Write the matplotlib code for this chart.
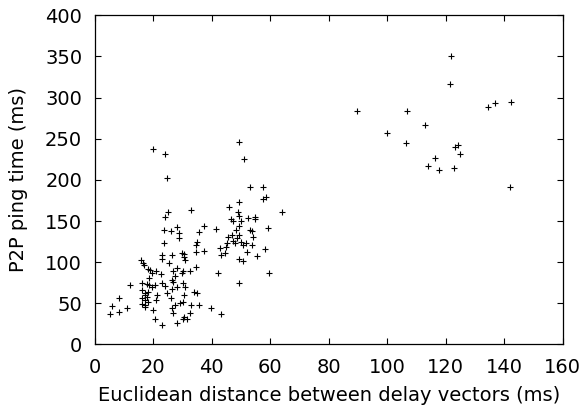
import numpy as np
import matplotlib
matplotlib.use("Agg")
import matplotlib.pyplot as plt

plt.rcParams['font.family'] = ['DejaVu Sans']

# euclidean distance (ms) vs P2P ping time (ms)
dist = [5.3, 6.0, 8.2, 8.4, 10.9, 12.1,
        15.9, 16.4, 16.9, 18.2, 19.0, 19.6, 18.5,
        16.1, 17.9, 18.7, 19.6, 20.5,
        16.1, 17.3, 18.2, 17.2, 16.1, 17.9, 17.1, 18.2, 16.1, 17.3, 17.2,
        19.8, 20.5, 23.0, 21.0, 21.3, 21.0, 22.6, 23.0, 23.9,
        23.0, 22.9, 25.3,
        24.8, 26.0, 26.4, 26.9, 28.2, 30.3, 31.7, 30.4, 32.6,
        26.4, 26.9, 26.4, 28.1, 26.7, 27.5, 28.2, 29.8, 30.1, 32.7, 34.6,
        26.3, 29.8, 30.5, 30.6, 30.8,
        30.3, 30.9, 34.1, 34.9, 30.4, 29.3, 30.3, 27.6, 32.9, 35.6, 39.9, 43.3, 42.3,
        34.5, 37.5, 35.1, 34.5, 23.8,
        23.7, 26.2, 28.2, 28.9, 28.7, 35.6, 37.5, 41.6,
        19.8, 24.1, 24.8, 25.1, 23.9, 33.0,
        49.2, 51.1, 53.1, 57.4, 58.6, 57.6, 49.3, 45.8, 49.0, 46.7, 47.2, 49.2,
        49.9, 52.3, 54.8, 54.8, 49.4, 42.8, 43.2, 44.5, 44.9, 45.7, 46.8, 47.2,
        48.0, 48.5, 49.4, 49.9, 50.8, 52.0, 51.7, 53.7, 53.1, 54.2, 53.7, 48.3,
        45.3, 58.1, 55.4, 50.6, 49.4, 49.4, 59.7, 64.0, 59.1,
        89.8, 106.9, 100.0, 106.4, 113.0, 121.8, 121.5, 134.4, 136.8, 142.2,
        123.3, 124.2, 124.8, 116.2, 114.1, 117.7, 122.7, 142.1]
ping = [36.7, 46.8, 56.2, 39.1, 44.0, 72.3,
        102.7, 99.5, 96.7, 91.4, 90.6, 86.6, 80.5,
        74.4, 73.3, 72.3, 70.3, 72.3,
        66.3, 63.0, 64.2, 60.2, 56.2, 58.1, 54.1, 52.0, 49.2, 48.4, 46.0,
        41.9, 30.6, 23.7, 54.1, 60.2, 89.7, 85.7, 74.4, 71.5,
        108.8, 104.0, 99.5,
        62.2, 56.2, 44.0, 37.9, 26.5, 30.6, 30.6, 33.8, 38.7,
        78.4, 76.0, 67.0, 70.3, 89.7, 83.3, 92.6, 86.6, 89.0, 89.7, 93.9,
        108.8, 110.9, 109.7, 106.0, 102.7,
        74.4, 70.3, 64.2, 62.2, 60.2, 50.1, 51.3, 48.0, 48.0, 48.0, 44.0, 37.1, 87.3,
        112.1, 114.0, 124.3, 121.0, 123.0,
        139.2, 138.0, 142.5, 135.2, 129.1, 137.1, 143.7, 140.0,
        237.7, 231.2, 202.0, 161.5, 155.4, 163.5,
        246.2, 225.5, 191.9, 191.9, 179.7, 176.9, 173.3, 166.8, 161.5, 152.2, 150.5, 156.6,
        150.5, 153.4, 155.4, 152.2, 143.7, 117.0, 108.8, 110.9, 118.9, 131.1, 133.1, 126.2,
        123.0, 129.1, 133.1, 125.0, 121.0, 112.1, 123.0, 121.0, 139.2, 131.1, 138.4, 139.2,
        123.0, 115.7, 108.0, 101.5, 104.0, 75.1, 87.3, 161.0, 142.0,
        283.5, 284.3, 257.5, 244.6, 267.2, 350.4, 316.7, 289.1, 294.0, 294.8,
        240.1, 242.1, 231.6, 226.4, 217.0, 211.8, 214.6, 191.5]

fig = plt.figure(figsize=(5.82, 4.16), dpi=100)
ax = fig.add_axes([0.1627, 0.1719, 0.8041, 0.7913])

ax.scatter(dist, ping, marker='+', s=14, linewidths=0.8, color='black')

ax.set_xlim(0, 160)
ax.set_ylim(0, 400)
ax.set_xticks(np.arange(0, 161, 20))
ax.set_yticks(np.arange(0, 401, 50))
ax.tick_params(direction='in', length=4, width=0.8, top=True, right=True,
               labelsize=14, colors='black')
ax.tick_params(axis='x', pad=10)
ax.tick_params(axis='y', pad=9)
for s in ax.spines.values():
    s.set_linewidth(0.9)

ax.set_xlabel('Euclidean distance between delay vectors (ms)', fontsize=14, labelpad=6)
ax.set_ylabel('P2P ping time (ms)', fontsize=14, labelpad=12)

fig.savefig('out.png', dpi=100)
